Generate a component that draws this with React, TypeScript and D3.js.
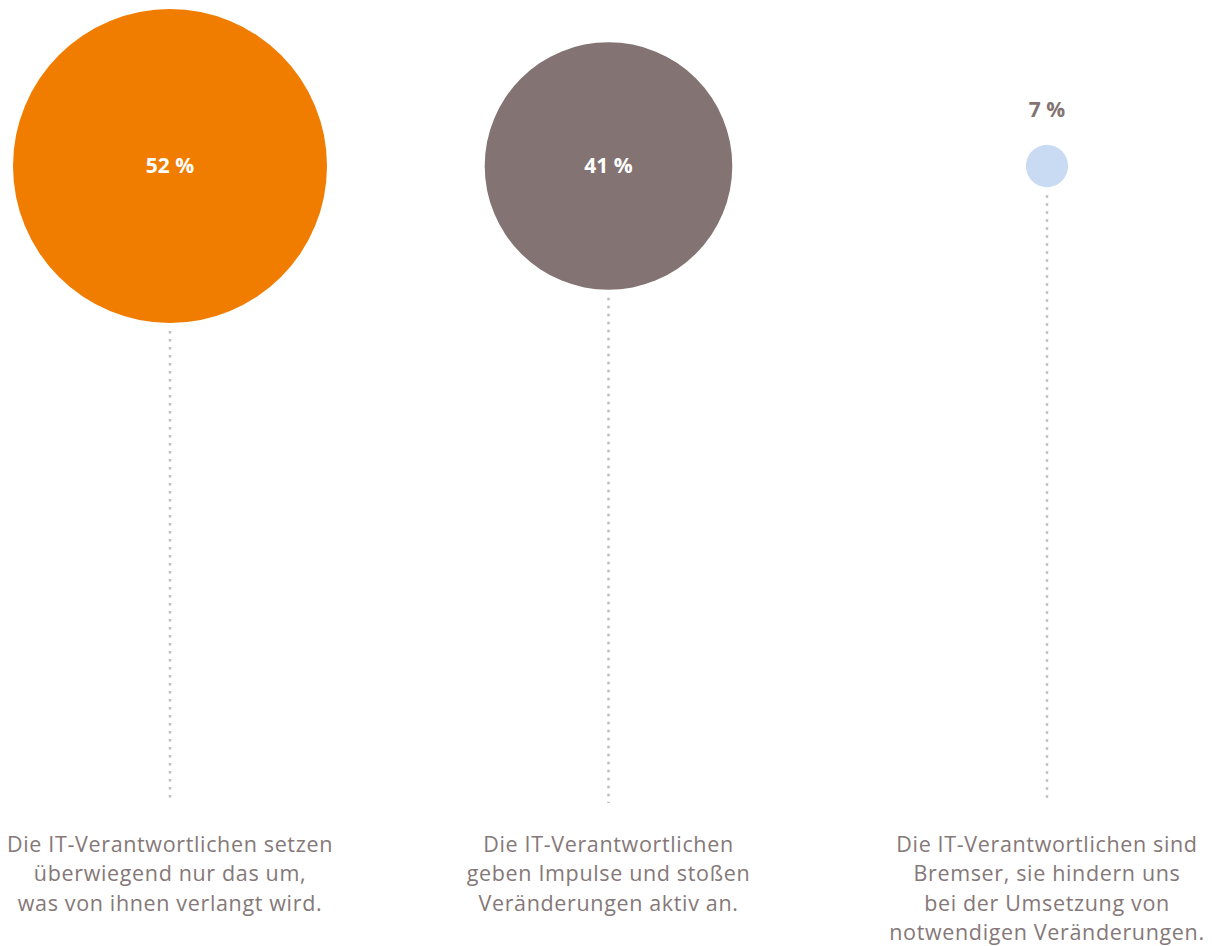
import React from "react";
import * as d3 from "d3";

const categories = ["setzen", "impulse", "bremser"];
const values = [52, 41, 7];
const colors = ["#F07D00", "#837473", "#C9DBF2"];
const labelLines = [
  ["Die IT-Verantwortlichen setzen", "überwiegend nur das um,", "was von ihnen verlangt wird."],
  ["Die IT-Verantwortlichen", "geben Impulse und stoßen", "Veränderungen aktiv an."],
  ["Die IT-Verantwortlichen sind", "Bremser, sie hindern uns", "bei der Umsetzung von", "notwendigen Veränderungen."],
];

const W = 1212;
const H = 946;

export default function App() {
  const x = d3.scalePoint<string>().domain(categories).range([170, 1047]);
  const r = d3.scaleLinear().domain([0, 52]).range([0, 157]);
  const cy = 166;
  const lineEnd = 803;
  const font = "'Open Sans', sans-serif";
  return (
    <svg width={W} height={H} style={{ position: "absolute", left: 0, top: 0 }}>
      <rect width={W} height={H} fill="#fff" />
      {categories.map((c, i) => {
        const cx = x(c)!;
        const rad = r(values[i]);
        const inside = rad > 40;
        return (
          <g key={c}>
            <line
              x1={cx}
              x2={cx}
              y1={cy + rad + 8}
              y2={lineEnd}
              stroke="#c4babb"
              strokeWidth={2.5}
              strokeDasharray="2.5 5.5"
            />
            <circle cx={cx} cy={cy} r={rad} fill={colors[i]} />
            <text
              x={cx}
              y={inside ? cy + 7 : cy - rad - 28}
              textAnchor="middle"
              fontFamily={font}
              fontWeight={700}
              fontSize={21}
              fill={inside ? "#fff" : "#837473"}
            >
              {values[i]} %
            </text>
            {labelLines[i].map((t, j) => (
              <text
                key={j}
                x={cx}
                y={852 + j * 29.4}
                textAnchor="middle"
                fontFamily={font}
                fontSize={21.5}
                letterSpacing={0.65}
                fill="#857878"
              >
                {t}
              </text>
            ))}
          </g>
        );
      })}
    </svg>
  );
}
